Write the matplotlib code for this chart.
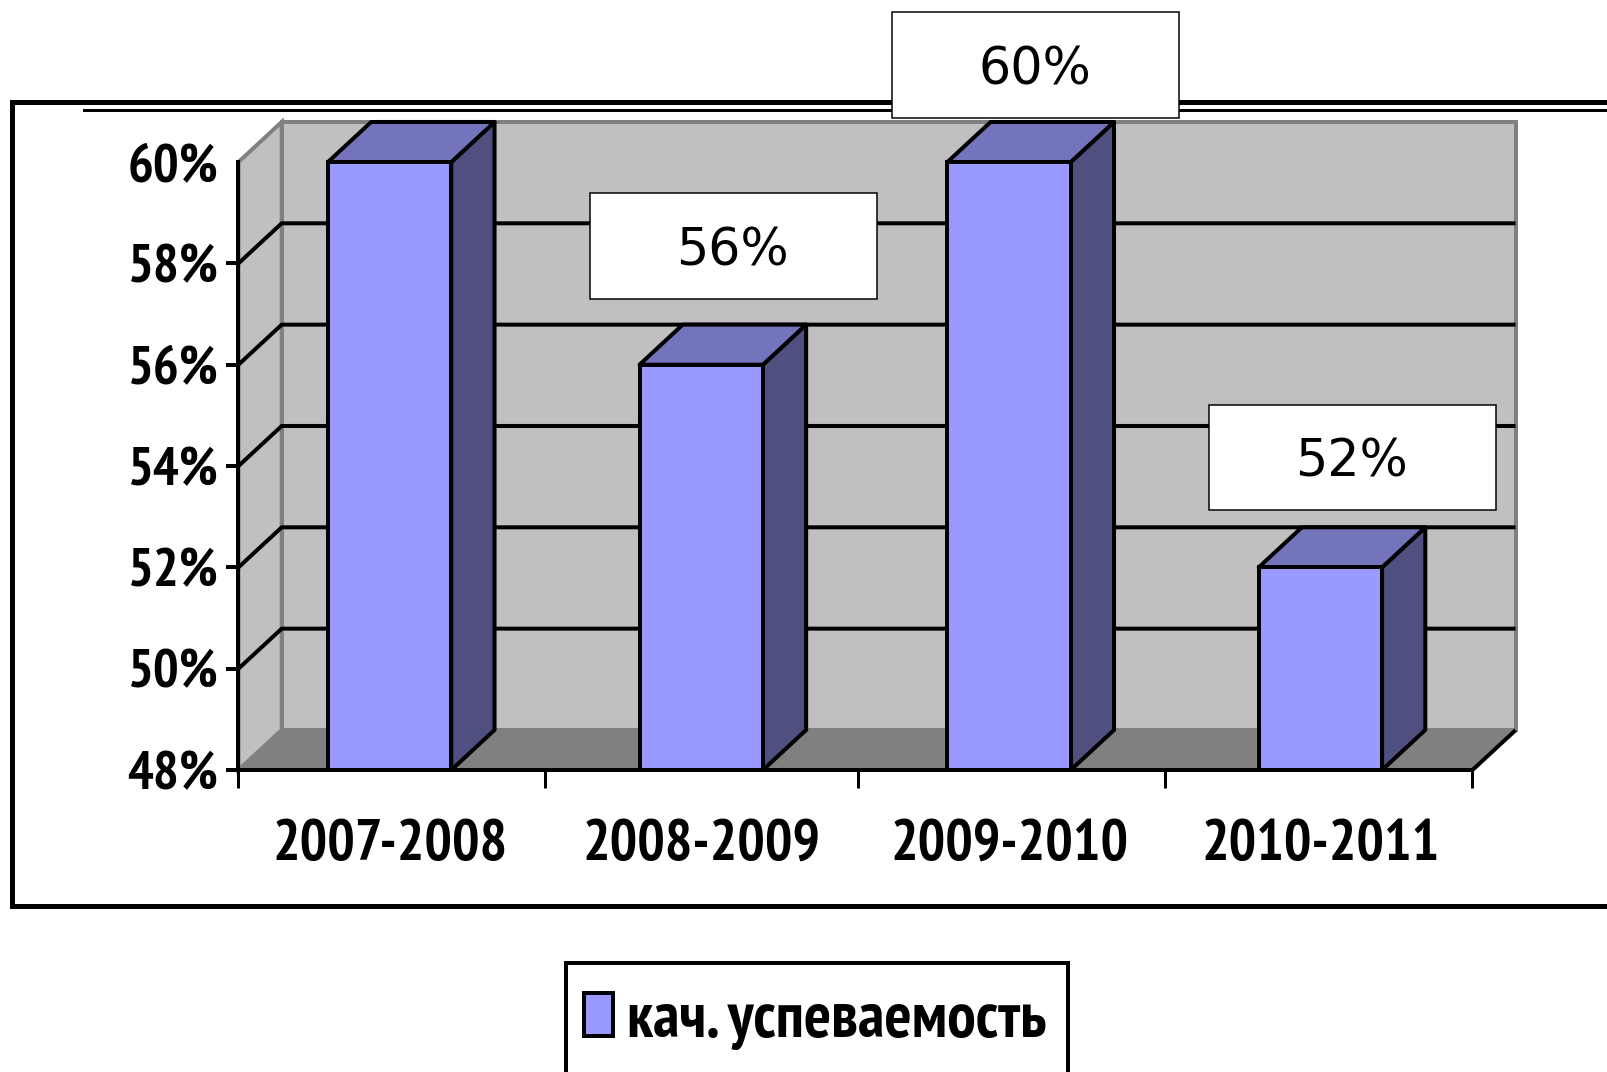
import matplotlib
matplotlib.use('Agg')
import matplotlib.pyplot as plt
from matplotlib.patches import Polygon, Rectangle
from matplotlib.lines import Line2D

W, H = 1608, 1072

years = ['2007-2008', '2008-2009', '2009-2010', '2010-2011']
values = [60, 56, 60, 52]
y_ticks = [48, 50, 52, 54, 56, 58, 60]
series_name = 'кач. успеваемость'

# the old chart is not quite evenly spaced
bar_x = [0.49, 1.5, 2.498, 3.507]
x_edges = [0, 0.993, 2.007, 3.003, 4]

# label boxes, only three of the bars have one (x0, x1, y0, y1 in pixels from top left)
label_values = [56, 60, 52]
label_boxes = [(589.5, 876.5, 193, 299), (892, 1179, 12, 118), (1209, 1496, 405, 510)]

narrow = ['PT Sans Narrow', 'Roboto Condensed', 'Liberation Sans', 'DejaVu Sans']
px = 0.72  # one pixel in points at dpi 100


def fig_rect(x0, x1, y0, y1, **kw):
    return Rectangle((x0 / W, 1 - y1 / H), (x1 - x0) / W, (y1 - y0) / H,
                     transform=fig.transFigure, **kw)


fig = plt.figure(figsize=(W / 100, H / 100), dpi=100, facecolor='white')

# outer frame runs off the right edge of the picture
fig.add_artist(fig_rect(12.5, 1640, 102, 906, facecolor='white', edgecolor='black', linewidth=5 * px, zorder=-2))
fig.add_artist(Line2D([84 / W, 1], [1 - 110 / H, 1 - 110 / H], color='black', lw=3 * px, zorder=-1))

ax = fig.add_axes([238.5 / W, 1 - 770 / H, 1234 / W, 608 / H])
ax.set_xlim(0, 4)
ax.set_ylim(48, 60)
ax.patch.set_visible(False)

dx, dy = 0.14, 0.79

# walls and floor
ax.add_patch(Polygon([(dx, 48 + dy), (4 + dx, 48 + dy), (4 + dx, 60 + dy), (dx, 60 + dy)],
                     facecolor='#c0c0c0', edgecolor='#808080', lw=4 * px, clip_on=False, zorder=1))
ax.add_patch(Polygon([(0, 48), (dx, 48 + dy), (dx, 60 + dy), (0, 60)],
                     facecolor='#c0c0c0', edgecolor='#808080', lw=4 * px, clip_on=False, zorder=1))
ax.add_patch(Polygon([(0, 48), (4, 48), (4 + dx, 48 + dy), (dx, 48 + dy)],
                     facecolor='#808080', edgecolor='none', clip_on=False, zorder=1.5))

for y in y_ticks[1:-1]:
    ax.plot([0, dx, 4 + dx - 0.007], [y, y + dy, y + dy], color='black', lw=4 * px, clip_on=False, zorder=2)
ax.plot([4, 4 + dx - 0.005], [48, 48 + dy - 0.03], color='black', lw=4 * px, clip_on=False, zorder=2)

# bars with their top and side faces
bar_w = 0.4
for xc, v in zip(bar_x, values):
    x0 = xc - bar_w / 2
    x1 = x0 + bar_w
    ax.add_patch(Polygon([(x1, 48), (x1 + dx, 48 + dy), (x1 + dx, v + dy), (x1, v)],
                         facecolor='#4f4f80', edgecolor='black', lw=4 * px, joinstyle='round',
                         clip_on=False, zorder=3))
    ax.add_patch(Polygon([(x0, v), (x1, v), (x1 + dx, v + dy), (x0 + dx, v + dy)],
                         facecolor='#7474bc', edgecolor='black', lw=4 * px, joinstyle='round',
                         clip_on=False, zorder=3))
bars = ax.bar(bar_x, [v - 48 for v in values], bottom=48, width=bar_w,
              color='#9999ff', edgecolor='black', linewidth=4 * px, clip_on=False, zorder=4,
              label=series_name)

# axes
for s in ['top', 'right']:
    ax.spines[s].set_visible(False)
for s in ['left', 'bottom']:
    ax.spines[s].set_linewidth(4 * px)
    ax.spines[s].set_zorder(5)

ax.set_yticks(y_ticks)
ax.set_yticklabels(['%d%%' % y for y in y_ticks], family=narrow, fontweight='bold', fontsize=39)
ax.tick_params(axis='y', length=12 * px, width=4 * px, pad=8 * px)
ax.yaxis.get_major_ticks()[-1].tick1line.set_visible(False)

ax.set_xticks(bar_x)
ax.set_xticklabels(years, family=narrow, fontweight='bold', fontsize=41.5)
ax.tick_params(axis='x', which='major', length=0, pad=49 * px)
ax.set_xticks(x_edges, minor=True)
ax.tick_params(axis='x', which='minor', length=18 * px, width=3 * px)

# value label boxes sit on top of everything
for v, (x0, x1, y0, y1) in zip(label_values, label_boxes):
    r = fig_rect(x0, x1, y0, y1, facecolor='white', edgecolor='black', linewidth=1.5 * px, zorder=10)
    fig.add_artist(r)
    fig.text(((x0 + x1) / 2 - 1) / W, 1 - (y0 + y1) / 2 / H, '%d%%' % v, family='DejaVu Sans', fontsize=36.5,
             ha='center', va='center_baseline', zorder=11)

# legend box also runs off the bottom edge, so the frame is drawn apart from the legend
fig.add_artist(fig_rect(566, 1068, 963, 1110, facecolor='white', edgecolor='black', linewidth=4 * px, zorder=8))
leg = fig.legend(handles=[bars], labels=[series_name], loc='center left',
                 bbox_to_anchor=(584 / W, 1 - 1021 / H), borderaxespad=0, borderpad=0,
                 prop={'family': narrow, 'weight': 'bold', 'size': 46},
                 handlelength=0.45, handleheight=0.64, handletextpad=0.22,
                 frameon=False)
leg.set_zorder(9)

fig.savefig('out.png', dpi=100)
